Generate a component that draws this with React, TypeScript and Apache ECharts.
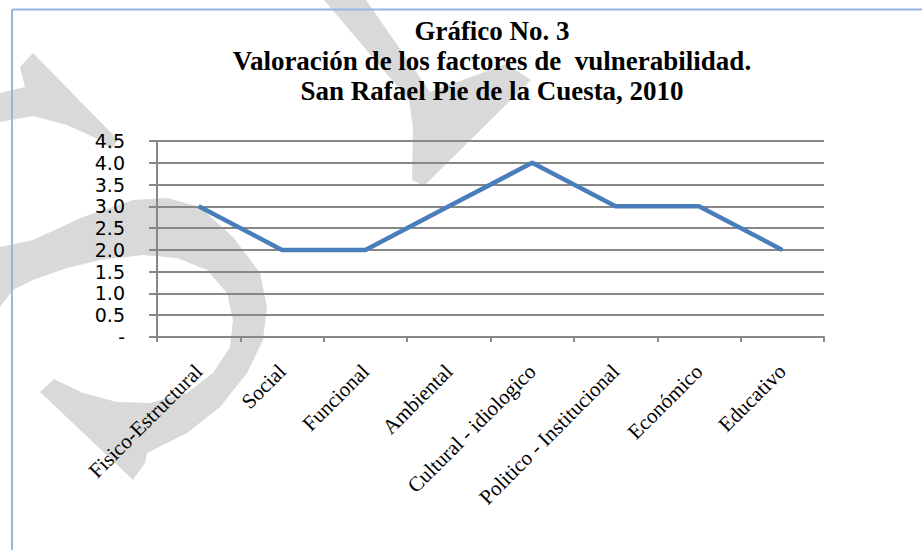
import React, { useEffect, useRef } from "react";
import * as echarts from "echarts";

const categories = [
  "Fisico-Estructural",
  "Social",
  "Funcional",
  "Ambiental",
  "Cultural - idiologico",
  "Politico - Institucional",
  "Económico",
  "Educativo",
];
const values = [3, 2, 2, 3, 4, 3, 3, 2];
const titleLines = [
  "Gráfico No. 3",
  "Valoración de los factores de  vulnerabilidad.",
  "San Rafael Pie de la Cuesta, 2010",
];

const WM = "#d9d9d9";
const wmTop = [[324, 0], [366, 0], [430, 92], [506, 64], [531, 80], [424, 186], [412, 180], [413, 128], [409, 100]];
const wmLeft = [[33, 53], [118, 140], [111, 149], [100, 140], [67, 125], [33, 116], [0, 122], [0, 93], [25, 87], [20, 67]];
const wmCrescent = [
  [0, 247], [33, 240], [83, 217], [133, 200], [167, 198], [200, 207], [233, 237], [260, 273], [267, 307],
  [263, 340], [247, 373], [220, 407], [187, 433], [147, 453], [145, 463], [133, 480], [40, 392], [54, 379],
  [83, 393], [117, 402], [150, 403], [187, 393], [213, 373], [230, 347], [233, 320], [227, 293], [207, 270],
  [177, 258], [143, 255], [100, 260], [67, 268], [33, 280], [13, 290], [0, 307],
];

export default function App() {
  const ref = useRef<HTMLDivElement>(null);
  useEffect(() => {
    if (!ref.current) return;
    const chart = echarts.init(ref.current, null, { renderer: "svg" });
    const grey = "#878787";
    chart.setOption({
      animation: false,
      backgroundColor: "#ffffff",
      graphic: [
        { type: "polygon", z: -10, shape: { points: wmTop }, style: { fill: WM } },
        { type: "polygon", z: -10, shape: { points: wmLeft }, style: { fill: WM } },
        { type: "polygon", z: -10, shape: { points: wmCrescent }, style: { fill: WM } },
        { type: "line", z: 5, shape: { x1: 12, y1: 9.5, x2: 922, y2: 9.5 }, style: { stroke: "#9ab6df", lineWidth: 2 } },
        { type: "line", z: 5, shape: { x1: 12, y1: 9.5, x2: 12, y2: 550 }, style: { stroke: "#9ab6df", lineWidth: 2 } },
        ...titleLines.map((t, i) => ({
          type: "text",
          z: 5,
          x: 492,
          y: 44 + i * 30,
          style: {
            text: t,
            fill: "#000",
            font: "bold 27px 'Liberation Serif'",
            textAlign: "center",
            textVerticalAlign: "bottom",
          },
        })),
      ],
      grid: { left: 157, right: 98, top: 141, bottom: 213, outerBoundsMode: "none" },
      xAxis: {
        type: "category",
        data: categories,
        boundaryGap: true,
        axisLine: { lineStyle: { color: grey, width: 2 } },
        axisTick: { show: true, length: 5, alignWithLabel: false, lineStyle: { color: grey, width: 2 } },
        axisLabel: {
          rotate: 45,
          interval: 0,
          margin: 31,
          color: "#000",
          fontFamily: "Liberation Serif",
          fontSize: 21,
        },
      },
      yAxis: {
        type: "value",
        min: 0,
        max: 4.5,
        interval: 0.5,
        axisLine: { show: true, lineStyle: { color: grey, width: 2 } },
        axisTick: { show: true, length: 8, lineStyle: { color: grey, width: 2 } },
        splitLine: { show: true, lineStyle: { color: grey, width: 2 } },
        axisLabel: {
          margin: 32,
          color: "#000",
          fontFamily: "DejaVu Sans",
          fontSize: 19,
          formatter: (v: number) => (v === 0 ? "-" : v.toFixed(1)),
        },
      },
      series: [
        {
          type: "line",
          data: values,
          showSymbol: false,
          symbol: "none",
          lineStyle: { color: "#4a7ebb", width: 4.5 },
        },
      ],
    });
    return () => chart.dispose();
  }, []);
  return (
    <div
      ref={ref}
      style={{ position: "fixed", left: 0, top: 0, width: 922, height: 550 }}
    />
  );
}
